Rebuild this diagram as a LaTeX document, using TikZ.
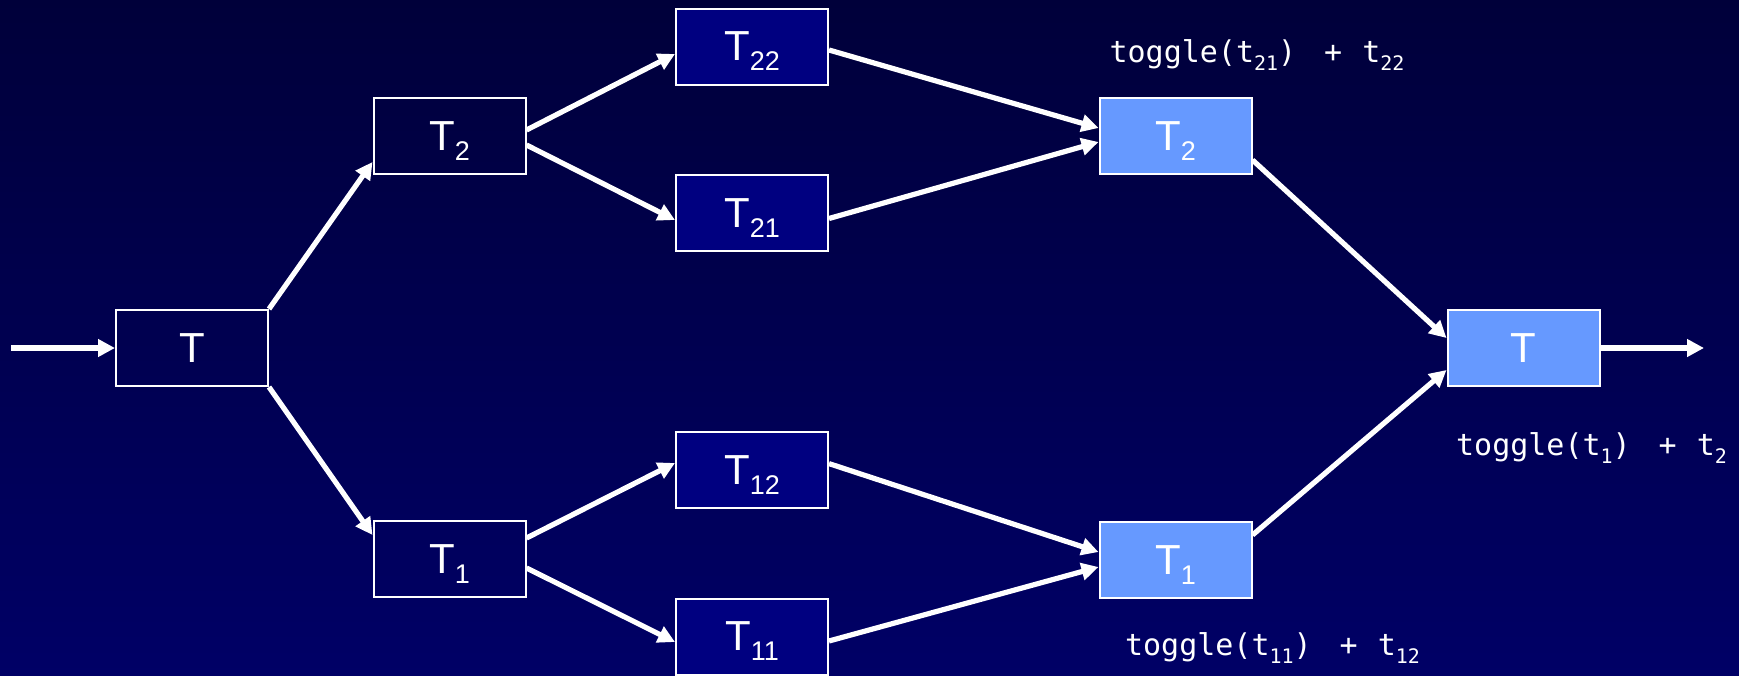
\documentclass[tikz,border=0pt]{standalone}
\usepackage{fontspec}
\setmainfont{Liberation Sans}
\newfontfamily\labelfont{DejaVu Sans Mono}
\usetikzlibrary{arrows.meta}
\definecolor{bgtop}{HTML}{00003A}
\definecolor{bgbot}{HTML}{000066}
\definecolor{navybox}{HTML}{000080}
\definecolor{lightbox}{HTML}{6699FF}
\newcommand\bsub[1]{\raisebox{-5pt}[0pt][0pt]{\fontsize{13.5}{14}\selectfont #1}}
\newcommand\lsub[1]{\raisebox{-4pt}{\fontsize{10}{11}\selectfont #1}}
\tikzset{
  box/.style={draw=white, line width=1pt, minimum width=76pt, minimum height=38pt,
    inner sep=0pt, text=white, font=\fontsize{21}{24}\selectfont},
  darkbox/.style={box},
  midbox/.style={box, fill=navybox},
  litebox/.style={box, fill=lightbox},
  conn/.style={draw=white, line width=2.6pt, -{Triangle[length=8.5pt,width=8.5pt]}},
  lbl/.style={text=white, anchor=base, inner sep=0pt, font=\labelfont\fontsize{15}{17}\selectfont}
}
\begin{document}
\begin{tikzpicture}[x=0.5pt, y=-0.5pt]
\shade[top color=bgtop, bottom color=bgbot] (0,0) rectangle (1739,675);
\useasboundingbox (0,0) rectangle (1739,675);

\node[darkbox] (T) at (192,348) {T};
\node[darkbox] (T2) at (449.5,136) {T\bsub{2}};
\node[darkbox] (T1) at (449.5,559) {T\bsub{1}};
\node[midbox] (T22) at (752,46.5) {T\bsub{22}};
\node[midbox] (T21) at (752,213) {T\bsub{21}};
\node[midbox] (T12) at (752,470) {T\bsub{12}};
\node[midbox] (T11) at (752,636.5) {T\bsub{11}};
\node[litebox] (L2) at (1175.5,136) {T\bsub{2}};
\node[litebox] (L1) at (1175.5,560) {T\bsub{1}};
\node[litebox] (LT) at (1523.5,348) {T};

\coordinate (in) at (11,348);
\coordinate (out) at (1704,348);

\node[lbl] (lab2) at (1257,62) {toggle(t\lsub{21})\hspace{14pt}+\hspace{10pt}t\lsub{22}};
\node[lbl] (labT) at (1591.5,455) {toggle(t\lsub{1})\hspace{14pt}+\hspace{10pt}t\lsub{2}};
\node[lbl] (lab1) at (1272.5,655) {toggle(t\lsub{11})\hspace{14pt}+\hspace{10pt}t\lsub{12}};

\draw[conn] (in) -- (T.west);
\draw[conn] (T.north east) -- ([yshift=-13pt]T2.west);
\draw[conn] (T.south east) -- ([yshift=12pt]T1.west);
\draw[conn] ([yshift=3pt]T2.east) -- ([yshift=-3.75pt]T22.west);
\draw[conn] ([yshift=-4.5pt]T2.east) -- ([yshift=-3.5pt]T21.west);
\draw[conn] ([yshift=10.5pt]T1.east) -- ([yshift=3.5pt]T12.west);
\draw[conn] ([yshift=-4.5pt]T1.east) -- ([yshift=-2.75pt]T11.west);
\draw[conn] ([yshift=-1.75pt]T22.east) -- ([yshift=4pt]L2.west);
\draw[conn] ([yshift=-2.75pt]T21.east) -- ([yshift=-3pt]L2.west);
\draw[conn] ([yshift=3.2pt]T12.east) -- ([yshift=4pt]L1.west);
\draw[conn] ([yshift=-2.25pt]T11.east) -- ([yshift=-3.5pt]L1.west);
\draw[conn] ([yshift=-12pt]L2.east) -- ([yshift=5pt]LT.west);
\draw[conn] ([yshift=12.5pt]L1.east) -- ([yshift=-11pt]LT.west);
\draw[conn] (LT.east) -- (out);
\end{tikzpicture}
\end{document}
